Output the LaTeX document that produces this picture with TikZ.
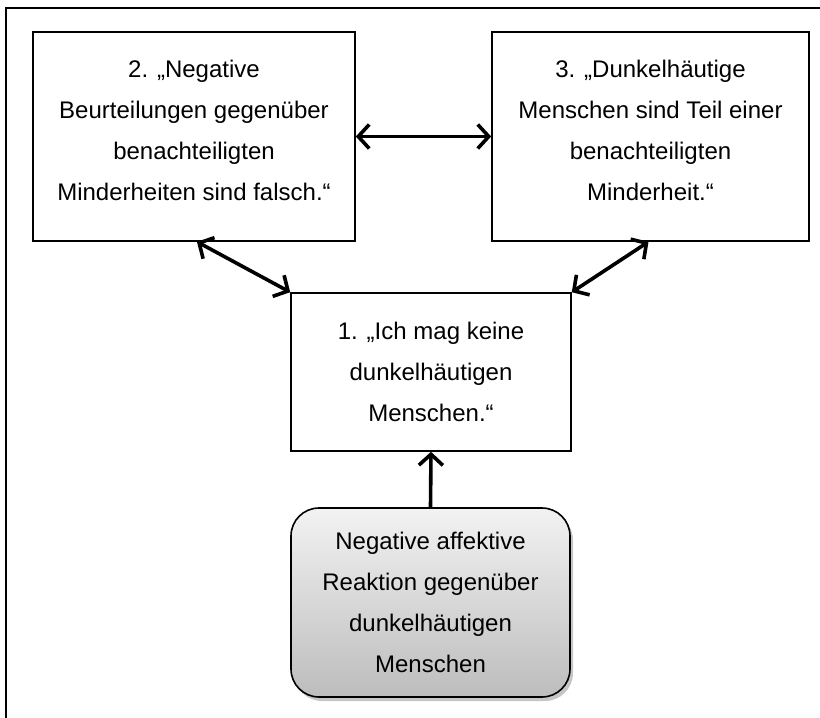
\documentclass[tikz,border=0pt]{standalone}
\usepackage{fontspec}
\setmainfont{Liberation Sans}
\usetikzlibrary{arrows.meta,shadows,calc}
\begin{document}
\begin{tikzpicture}[x=1pt,y=-1pt,
  stmt/.style={draw, line width=1.6pt, fill=white, align=center,
    font=\fontsize{24}{41}\selectfont, inner sep=0pt},
  upper/.style={stmt, minimum height=209pt, text depth=13pt},
  affect/.style={stmt, rounded corners=28pt, top color=gray!10, bottom color=gray!52,
    drop shadow={shadow xshift=3pt, shadow yshift=-4pt, opacity=0.45}},
  link/.style={line width=3.6pt, {Straight Barb[length=11pt,width=24pt]}-{Straight Barb[length=11pt,width=24pt]}},
  onelink/.style={line width=3.6pt, -{Straight Barb[length=11pt,width=24pt]}}]
\useasboundingbox (0,0) rectangle (820,718);
% open outer frame
\draw[line width=2pt] (6,740) -- (6,8) -- (840,8);

\node[upper, minimum width=322pt] (neg) at (194,136.5)
  {2. „Negative\\Beurteilungen gegenüber\\benachteiligten\\Minderheiten sind falsch.“};
\node[upper, minimum width=317pt] (dark) at (650.5,136.5)
  {3. „Dunkelhäutige\\Menschen sind Teil einer\\benachteiligten\\Minderheit.“};
\node[stmt, minimum width=280pt, minimum height=158pt] (like) at (431,372)
  {1. „Ich mag keine\\dunkelhäutigen\\Menschen.“};
\node[affect, minimum width=279pt, minimum height=189pt] (react) at (430.5,602.5)
  {Negative affektive\\Reaktion gegenüber\\dunkelhäutigen\\Menschen};

\draw[link] (neg.east) -- (dark.west);
\draw[link] ($(neg.south)+(3,0)$) -- (like.north west);
\draw[link] ($(dark.south)+(-2,0)$) -- (like.north east);
\draw[onelink] (react.north) -- (like.south);
\end{tikzpicture}
\end{document}
